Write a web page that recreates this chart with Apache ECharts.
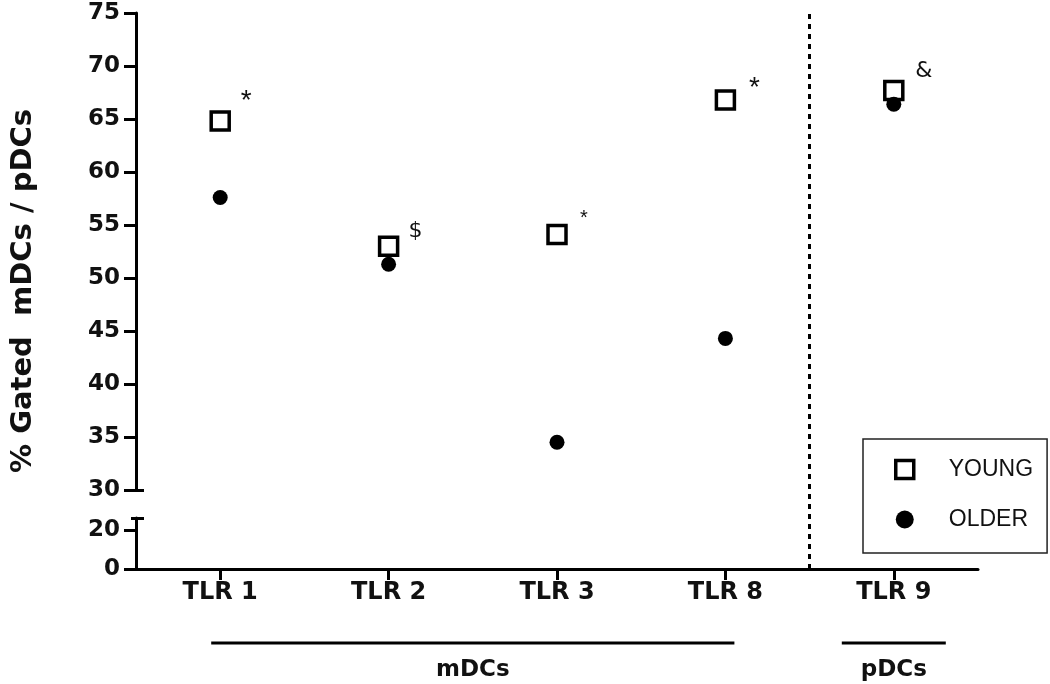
<!DOCTYPE html>
<html>
<head>
<meta charset="utf-8">
<script src="https://cdn.jsdelivr.net/npm/echarts@6/dist/echarts.min.js"></script>
<style>
  html, body { margin: 0; padding: 0; background: #fff; }
  #main { width: 1050px; height: 684px; }
</style>
</head>
<body>
<div id="main"></div>
<script>
// data
const categories = ['TLR 1', 'TLR 2', 'TLR 3', 'TLR 8', 'TLR 9'];
const young = [64.8, 53.0, 54.1, 66.8, 67.7];
const older = [57.6, 51.3, 34.5, 44.3, 66.4];
const marks = ['*', '$', '*', '*', '&'];   // significance marks next to YOUNG
const upperTicks = [30, 75, 5];             // min, max, step of the upper segment
const lowerTicks = [0, 20];                 // labelled values of the lower segment
const groups = [
  { name: 'mDCs', from: 0, to: 3 },
  { name: 'pDCs', from: 4, to: 4 }
];

const FONT = 'DejaVu Sans';
const chart = echarts.init(document.getElementById('main'));

const catIdx = categories.map((c, i) => i);
const toPairs = arr => arr.map((v, i) => [i, v]);

// label style per mark (the TLR 3 star is smaller)
const markLabel = (m, i) => {
  let small = (i == 2);
  let offs = [[26, -20], [27, -15], [27, -16], [29, -12], [30, -19]][i];
  return {
    show: true,
    position: 'inside',
    offset: offs,
    formatter: m,
    color: '#111',
    fontFamily: m == '*' ? 'Liberation Sans' : FONT,
    fontSize: m == '*' ? (small ? 20 : 28) : 22
  };
};

const xBase = {
  type: 'value', min: -0.5, max: 4.5,
  splitLine: { show: false }
};

const tickLine = { color: '#000', width: 3 };
const yLabel = { margin: 16, color: '#111', fontFamily: FONT, fontWeight: 'bold', fontSize: 23 };

chart.setOption({
  animation: false,
  grid: [
    { left: 136, right: 72, top: 13, bottom: 194 },   // 30 - 75
    { left: 136, right: 72, top: 518, bottom: 115 },  // 0 - 26
    { left: 136, right: 72, top: 13, bottom: 115 }    // overlay (divider, title)
  ],
  xAxis: [
    Object.assign({}, xBase, { gridIndex: 0, show: false }),
    Object.assign({}, xBase, {
      gridIndex: 1,
      axisLine: { onZero: false, lineStyle: tickLine },
      axisTick: { show: true, customValues: catIdx, length: 11, lineStyle: tickLine },
      axisLabel: {
        customValues: catIdx,
        formatter: v => categories[Math.round(v)],
        margin: 12,
        color: '#111',
        fontFamily: FONT,
        fontWeight: 'bold',
        fontSize: 24
      }
    }),
    Object.assign({}, xBase, { gridIndex: 2, show: false })
  ],
  yAxis: [
    {
      type: 'value', gridIndex: 0, position: 'left',
      min: upperTicks[0], max: upperTicks[1], interval: upperTicks[2],
      splitLine: { show: false },
      axisLine: { show: true, onZero: false, lineStyle: tickLine },
      axisTick: { show: true, length: 12, lineStyle: tickLine },
      axisLabel: yLabel
    },
    {
      type: 'value', gridIndex: 1, position: 'left', min: 0, max: 26,
      splitLine: { show: false },
      axisLine: { show: true, onZero: false, lineStyle: tickLine },
      axisTick: { show: true, length: 12, customValues: lowerTicks, lineStyle: tickLine },
      axisLabel: Object.assign({ customValues: lowerTicks }, yLabel)
    },
    // break caps
    {
      type: 'value', gridIndex: 0, position: 'left', min: upperTicks[0], max: upperTicks[1],
      splitLine: { show: false }, axisLine: { show: false, onZero: false }, axisLabel: { show: false },
      axisTick: { show: true, inside: true, length: 8, customValues: [upperTicks[0]], lineStyle: tickLine }
    },
    {
      type: 'value', gridIndex: 1, position: 'left', min: 0, max: 26,
      splitLine: { show: false }, axisLine: { show: false, onZero: false }, axisLabel: { show: false },
      axisTick: { show: true, inside: true, length: 8, customValues: [26], lineStyle: tickLine }
    },
    {
      type: 'value', gridIndex: 1, position: 'left', min: 0, max: 26,
      splitLine: { show: false }, axisLine: { show: false, onZero: false }, axisLabel: { show: false },
      axisTick: { show: true, length: 5, customValues: [26], lineStyle: tickLine }
    },
    {
      type: 'value', gridIndex: 2, position: 'left', min: 0, max: 1,
      splitLine: { show: false }, axisLine: { show: false, onZero: false }, axisTick: { show: false }, axisLabel: { show: false },
      name: '% Gated  mDCs / pDCs',
      nameLocation: 'middle',
      nameGap: 98,
      nameTextStyle: { color: '#111', fontFamily: FONT, fontWeight: 'bold', fontSize: 29 }
    }
  ],
  legend: {
    orient: 'vertical',
    left: 863, top: 439,
    width: 150,
    padding: [19, 14, 22, 31],
    itemWidth: 18, itemHeight: 18, itemGap: 27,
    borderColor: '#222', borderWidth: 1.5,
    textStyle: { color: '#111', fontFamily: 'Liberation Sans', fontSize: 23, padding: [0, 0, 0, 30] },
    data: [
      { name: 'YOUNG', itemStyle: { color: '#fff', borderColor: '#000', borderWidth: 3.5 } },
      { name: 'OLDER' }
    ]
  },
  series: [
    {
      name: 'YOUNG', type: 'scatter',
      xAxisIndex: 0, yAxisIndex: 0,
      symbol: 'rect', symbolSize: 18,
      itemStyle: { color: '#fff', borderColor: '#000', borderWidth: 3.5, opacity: 1 },
      data: toPairs(young).map((p, i) => ({ value: p, label: markLabel(marks[i], i) })),
      z: 2
    },
    {
      name: 'OLDER', type: 'scatter',
      xAxisIndex: 0, yAxisIndex: 0,
      symbol: 'circle', symbolSize: 15,
      itemStyle: { color: '#000', opacity: 1 },
      data: toPairs(older),
      z: 3
    },
    {
      // TLR 8 | TLR 9 divider
      name: 'divider', type: 'scatter',
      xAxisIndex: 2, yAxisIndex: 5,
      data: [],
      silent: true,
      markLine: {
        silent: true, symbol: 'none',
        label: { show: false },
        lineStyle: { color: '#000', width: 3, type: [5, 5] },
        data: [{ xAxis: 3.5 }]
      }
    }
  ]
});

// group bars under the category labels
const groupPad = [9, 52];
let graphics = [];
groups.forEach((g, k) => {
  let x1 = chart.convertToPixel({ xAxisIndex: 1 }, g.from) - groupPad[k];
  let x2 = chart.convertToPixel({ xAxisIndex: 1 }, g.to) + groupPad[k];
  graphics.push({
    type: 'line',
    shape: { x1: x1, y1: 643, x2: x2, y2: 643 },
    style: { stroke: '#000', lineWidth: 3 }
  });
  graphics.push({
    type: 'text',
    x: (x1 + x2) / 2, y: 670,
    style: {
      text: g.name, fill: '#111', align: 'center', verticalAlign: 'middle',
      font: 'bold 23px "' + FONT + '"'
    }
  });
});
chart.setOption({ graphic: graphics });
</script>
</body>
</html>
